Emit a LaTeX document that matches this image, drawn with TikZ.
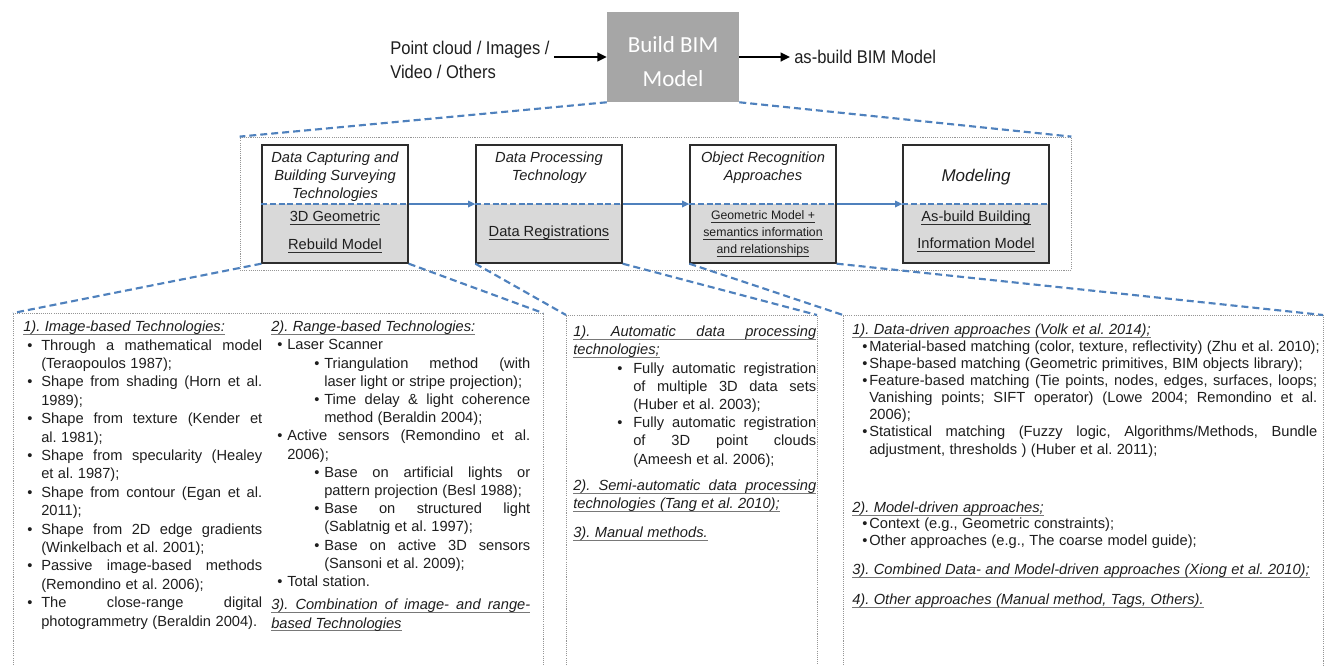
\documentclass[tikz,border=0pt]{standalone}
\usepackage{fontspec}
\setmainfont{Liberation Sans}
\newfontfamily\calib{Carlito}
\newfontfamily\narrowsans[FakeStretch=0.9]{Liberation Sans}
\usetikzlibrary{arrows.meta}
\definecolor{bblue}{RGB}{79,129,189}
\definecolor{bimgray}{RGB}{166,166,166}
\definecolor{lowgray}{RGB}{217,217,217}
\definecolor{txt}{RGB}{30,30,30}
\definecolor{ulgray}{RGB}{120,120,120}
\definecolor{dotgray}{RGB}{150,150,150}
\definecolor{edgec}{RGB}{45,45,45}
\newlength\bulx
\newlength\txtx
\newcommand\jbox[2]{\makebox[#1][s]{\spaceskip=0.278em plus 1fil\relax #2}}
\newcommand\gul[1]{\setbox0=\hbox{#1}\rlap{\color{ulgray}\rule[-2.3pt]{\wd0}{0.6pt}}\box0}
\newcommand\dul[1]{\setbox0=\hbox{#1}\rlap{\color{edgec}\rule[-2.4pt]{\wd0}{0.6pt}}\box0}
\newcommand\Lhead[1]{\par\noindent\strut\gul{\itshape #1}\par}
\newcommand\LheadJ[1]{\par\noindent\strut\gul{\itshape\jbox{\linewidth}{#1}}\par}
\newcommand\Lbj[1]{\par\noindent\strut\hspace*{\bulx}\makebox[\dimexpr\txtx-\bulx\relax][l]{\textbullet}\jbox{\dimexpr\linewidth-\txtx\relax}{#1}\par}
\newcommand\Lbl[1]{\par\noindent\strut\hspace*{\bulx}\makebox[\dimexpr\txtx-\bulx\relax][l]{\textbullet}\makebox[\dimexpr\linewidth-\txtx\relax][l]{#1}\par}
\newcommand\Lcj[1]{\par\noindent\strut\hspace*{\txtx}\jbox{\dimexpr\linewidth-\txtx\relax}{#1}\par}
\newcommand\Lcl[1]{\par\noindent\strut\hspace*{\txtx}\makebox[\dimexpr\linewidth-\txtx\relax][l]{#1}\par}
\begin{document}
\frenchspacing
\begin{tikzpicture}[x=0.75pt,y=-0.75pt,
  every node/.style={text=txt},
  bimbox/.style={fill=bimgray, minimum width=99pt, minimum height=67.5pt, inner sep=0pt},
  bimtext/.style={text=white, font=\calib\fontsize{17.25}{25.5}\selectfont, align=center, inner sep=0pt},
  plain/.style={font=\narrowsans\fontsize{13.8}{18}\selectfont, align=left, inner sep=3pt},
  blackarrow/.style={line width=1.6pt, black, -{Triangle[length=7pt,width=6.5pt]}},
  outerbox/.style={draw=dotgray, line width=0.6pt, dash pattern=on 0.8pt off 0.8pt, minimum width=623.25pt, minimum height=99.75pt, inner sep=0pt},
  stage/.style={draw=edgec, line width=1pt, minimum width=109.5pt, minimum height=88.5pt, inner sep=0pt,
    path picture={\fill[lowgray] (path picture bounding box.west) rectangle (path picture bounding box.south east);}},
  divider/.style={bblue, line width=0.9pt, dash pattern=on 4.5pt off 2pt},
  flow/.style={bblue, line width=0.9pt, -{Triangle[length=5.5pt,width=5pt]}},
  zoomline/.style={bblue, line width=1.6pt, dash pattern=on 5.25pt off 3pt},
  panel/.style={dotgray, line width=0.6pt, dash pattern=on 0.8pt off 0.8pt},
  toplabel/.style={font=\itshape\fontsize{11}{13.5}\selectfont, align=center, inner sep=0pt},
  lowlabel/.style={font=\fontsize{11}{21}\selectfont, align=center, inner sep=0pt},
  listcol/.style={anchor=north west, inner sep=0pt}
]
\useasboundingbox (0,0) rectangle (1333,665);

% ---------- top row ----------
\node[bimbox] (bim) at (673,57) {};
\node[bimtext] (bimt) at (673,62) {Build BIM\\Model};
\node[plain, anchor=west] (src) at (386,60) {Point cloud / Images /\\Video / Others};
\node[plain, anchor=west] (out) at (790,57) {as-build BIM Model};
\draw[blackarrow] (src.east |- bim.west) -- (bim.west);
\draw[blackarrow] (bim.east) -- (out.west);

% ---------- middle row ----------
\node[outerbox] (outer) at (655.5,203.5) {};
\node[stage] (s1) at (335,204) {};
\node[stage] (s2) at (549,204) {};
\node[stage] (s3) at (763,204) {};
\node[stage] (s4) at (976,204) {};
\draw[divider] (s1.west) -- (s1.east);
\draw[divider] (s2.west) -- (s2.east);
\draw[divider] (s3.west) -- (s3.east);
\draw[divider] (s4.west) -- (s4.east);
\draw[flow] (s1.east) -- (s2.west);
\draw[flow] (s2.east) -- (s3.west);
\draw[flow] (s3.east) -- (s4.west);

\node[toplabel] (s1t) at (335,177) {Data Capturing and\\Building Surveying\\Technologies};
\node[lowlabel] (s1b) at (335,232) {\dul{3D Geometric}\\\dul{Rebuild Model}};
\node[toplabel] (s2t) at (549,168) {Data Processing\\Technology};
\node[lowlabel] (s2b) at (549,233) {\dul{Data Registrations}};
\node[toplabel] (s3t) at (763,168) {Object Recognition\\Approaches};
\node[lowlabel, font=\fontsize{9.2}{12.75}\selectfont] (s3b) at (763,234) {\dul{Geometric Model +}\\\dul{semantics information}\\\dul{and relationships}};
\node[toplabel, font=\itshape\fontsize{12.75}{15}\selectfont] (s4t) at (976,177) {Modeling};
\node[lowlabel, font=\fontsize{11}{20.25}\selectfont] (s4b) at (976,231.5) {\dul{As-build Building}\\\dul{Information Model}};

% ---------- panels ----------
\coordinate (p1nw) at (13,313);
\coordinate (p1ne) at (543,313);
\coordinate (p2nw) at (566,315);
\coordinate (p2ne) at (817,315);
\coordinate (p3nw) at (843,315);
\coordinate (p3ne) at (1323,315);
\draw[panel] (13,665) -- (p1nw) -- (p1ne) -- (543,665);
\draw[panel] (566,665) -- (p2nw) -- (p2ne) -- (817,665);
\draw[panel] (843,665) -- (p3nw) -- (p3ne) -- (1323,665);

% ---------- zoom connectors ----------
\draw[zoomline] (bim.south west) -- (outer.north west);
\draw[zoomline] (bim.south east) -- (outer.north east);
\draw[zoomline] (s1.south west) -- (p1nw);
\draw[zoomline] (s1.south east) -- (p1ne);
\draw[zoomline] (s2.south west) -- (p2nw);
\draw[zoomline] (s2.south east) -- (p2ne);
\draw[zoomline] (s3.south west) -- (p3nw);
\draw[zoomline] (s3.south east) -- (p3ne);

% ---------- panel 1 ----------
\node[listcol, text width=179.25pt] (c1) at (23,313.1) {%
\fontsize{11}{13.8}\selectfont\setlength\bulx{3pt}\setlength\txtx{13.5pt}%
\Lhead{1). Image-based Technologies:}
\Lbj{Through a mathematical model}
\Lcl{(Teraopoulos 1987);}
\Lbj{Shape from shading (Horn et al.}
\Lcl{1989);}
\Lbj{Shape from texture (Kender et}
\Lcl{al. 1981);}
\Lbj{Shape from specularity (Healey}
\Lcl{et al. 1987);}
\Lbj{Shape from contour (Egan et al.}
\Lcl{2011);}
\Lbj{Shape from 2D edge gradients}
\Lcl{(Winkelbach et al. 2001);}
\Lbj{Passive image-based methods}
\Lcl{(Remondino et al. 2006);}
\Lbj{The close-range digital}
\Lcl{photogrammetry (Beraldin 2004).}
};

\node[listcol, text width=194.25pt] (c2) at (271,313.3) {%
\fontsize{11}{13.65}\selectfont\setlength\bulx{4.5pt}\setlength\txtx{12pt}%
\Lhead{2). Range-based Technologies:}
\Lbl{Laser Scanner}
\setlength\bulx{32.25pt}\setlength\txtx{39.75pt}%
\Lbj{Triangulation method (with}
\Lcl{laser light or stripe projection);}
\Lbj{Time delay \& light coherence}
\Lcl{method (Beraldin 2004);}
\setlength\bulx{4.5pt}\setlength\txtx{12pt}%
\Lbj{Active sensors (Remondino et al.}
\Lcl{2006);}
\setlength\bulx{32.25pt}\setlength\txtx{39.75pt}%
\Lbj{Base on artificial lights or}
\Lcl{pattern projection (Besl 1988);}
\Lbj{Base on structured light}
\Lcl{(Sablatnig et al. 1997);}
\Lbj{Base on active 3D sensors}
\Lcl{(Sansoni et al. 2009);}
\setlength\bulx{4.5pt}\setlength\txtx{12pt}%
\Lbl{Total station.}
};

\node[listcol, text width=194.25pt] (c2b) at (271,591.1) {%
\fontsize{11}{13.8}\selectfont
\LheadJ{3). Combination of image- and range-}
\Lhead{based Technologies}
};

% ---------- panel 2 ----------
\node[listcol, text width=182.25pt] (p2a) at (573,318.3) {%
\fontsize{11}{13.65}\selectfont\setlength\bulx{33pt}\setlength\txtx{45pt}%
\LheadJ{1). Automatic data processing}
\Lhead{technologies;}
\Lbj{Fully automatic registration}
\Lcj{of multiple 3D data sets}
\Lcl{(Huber et al. 2003);}
\Lbj{Fully automatic registration}
\Lcj{of 3D point clouds}
\Lcl{(Ameesh et al. 2006);}
};
\node[listcol, text width=182.25pt] (p2b) at (573,472.3) {%
\fontsize{11}{13.65}\selectfont
\LheadJ{2). Semi-automatic data processing}
\Lhead{technologies (Tang et al. 2010);}
};
\node[listcol, text width=182.25pt] (p2c) at (573,519.3) {%
\fontsize{11}{13.65}\selectfont
\Lhead{3). Manual methods.}
};

% ---------- panel 3 ----------
\node[listcol, text width=348.75pt] (p3a) at (852,317) {%
\fontsize{11}{12.825}\selectfont\setlength\bulx{7.5pt}\setlength\txtx{12.75pt}%
\Lhead{1). Data-driven approaches (Volk et al. 2014);}
\Lbl{Material-based matching (color, texture, reflectivity) (Zhu et al. 2010);}
\Lbl{Shape-based matching (Geometric primitives, BIM objects library);}
\Lbj{Feature-based matching (Tie points, nodes, edges, surfaces, loops;}
\Lcj{Vanishing points; SIFT operator) (Lowe 2004; Remondino et al.}
\Lcl{2006);}
\Lbj{Statistical matching (Fuzzy logic, Algorithms/Methods, Bundle}
\Lcl{adjustment, thresholds ) (Huber et al. 2011);}
};
\node[listcol, text width=348.75pt] (p3b) at (852,495.4) {%
\fontsize{11}{12.45}\selectfont\setlength\bulx{7.5pt}\setlength\txtx{12.75pt}%
\Lhead{2). Model-driven approaches;}
\Lbl{Context (e.g., Geometric constraints);}
\Lbl{Other approaches (e.g., The coarse model guide);}
};
\node[listcol, text width=348.75pt] (p3c) at (852,557) {%
\fontsize{11}{12.825}\selectfont
\Lhead{3). Combined Data- and Model-driven approaches (Xiong et al. 2010);}
};
\node[listcol, text width=348.75pt] (p3d) at (852,587) {%
\fontsize{11}{12.825}\selectfont
\Lhead{4). Other approaches (Manual method, Tags, Others).}
};
\end{tikzpicture}
\end{document}
